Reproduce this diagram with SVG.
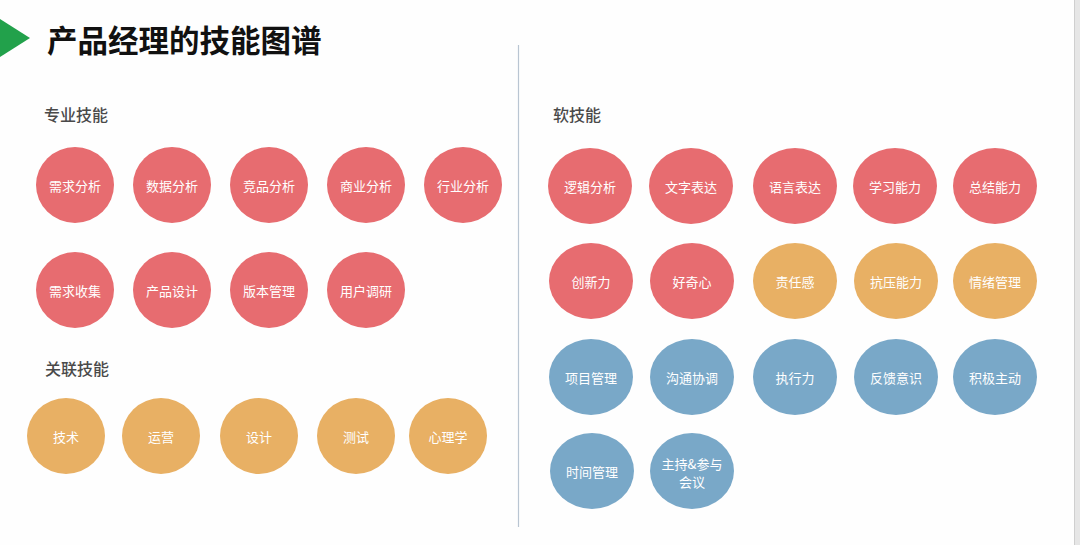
<svg xmlns="http://www.w3.org/2000/svg" width="1080" height="545" viewBox="0 0 1080 545">
<style>
.t{font-family:"Noto Sans CJK SC","Noto Sans",sans-serif;fill:#fff;font-size:13px;text-anchor:middle;dominant-baseline:central}
.h{font-family:"Noto Sans CJK SC","Noto Sans",sans-serif;fill:#4a4a4a;font-size:16px;font-weight:500}
.r{fill:#e76c70}
.o{fill:#e8b064}
.b{fill:#79a8c8}
</style>
<rect width="1080" height="545" fill="#fefefe"/>
<rect x="1075" y="0" width="5" height="545" fill="#e6e6e6"/>
<line x1="1074.5" y1="0" x2="1074.5" y2="545" stroke="#cfcfcf"/>
<polygon points="0,19 30,38 0,57" fill="#22a14b"/>
<text x="47" y="52" font-family="Noto Sans CJK SC, sans-serif" font-size="30.5" font-weight="bold" fill="#111">产品经理的技能图谱</text>
<line x1="518.5" y1="45" x2="518.5" y2="527" stroke="#b9c5d2" stroke-width="1.2"/>
<text class="h" x="44" y="121">专业技能</text>
<text class="h" x="45" y="375">关联技能</text>
<text class="h" x="553" y="121">软技能</text>
<g id="n1"><ellipse class="r" cx="75" cy="185" rx="39" ry="38"/><text class="t" x="75" y="185">需求分析</text></g>
<g id="n2"><ellipse class="r" cx="172" cy="185" rx="39" ry="38"/><text class="t" x="172" y="185">数据分析</text></g>
<g id="n3"><ellipse class="r" cx="269" cy="185" rx="39" ry="38"/><text class="t" x="269" y="185">竞品分析</text></g>
<g id="n4"><ellipse class="r" cx="366" cy="185" rx="39" ry="38"/><text class="t" x="366" y="185">商业分析</text></g>
<g id="n5"><ellipse class="r" cx="463" cy="185" rx="39" ry="38"/><text class="t" x="463" y="185">行业分析</text></g>
<g id="n6"><ellipse class="r" cx="75" cy="290" rx="39" ry="38"/><text class="t" x="75" y="290">需求收集</text></g>
<g id="n7"><ellipse class="r" cx="172" cy="290" rx="39" ry="38"/><text class="t" x="172" y="290">产品设计</text></g>
<g id="n8"><ellipse class="r" cx="269" cy="290" rx="39" ry="38"/><text class="t" x="269" y="290">版本管理</text></g>
<g id="n9"><ellipse class="r" cx="366" cy="290" rx="39" ry="38"/><text class="t" x="366" y="290">用户调研</text></g>
<g id="a1"><ellipse class="o" cx="66" cy="436" rx="39" ry="38"/><text class="t" x="66" y="436">技术</text></g>
<g id="a2"><ellipse class="o" cx="161" cy="436" rx="39" ry="38"/><text class="t" x="161" y="436">运营</text></g>
<g id="a3"><ellipse class="o" cx="259" cy="436" rx="39" ry="38"/><text class="t" x="259" y="436">设计</text></g>
<g id="a4"><ellipse class="o" cx="356" cy="436" rx="39" ry="38"/><text class="t" x="356" y="436">测试</text></g>
<g id="a5"><ellipse class="o" cx="448" cy="436" rx="39" ry="38"/><text class="t" x="448" y="436">心理学</text></g>
<g id="s1"><ellipse class="r" cx="590" cy="186" rx="42" ry="38"/><text class="t" x="590" y="186">逻辑分析</text></g>
<g id="s2"><ellipse class="r" cx="691" cy="186" rx="42" ry="38"/><text class="t" x="691" y="186">文字表达</text></g>
<g id="s3"><ellipse class="r" cx="795" cy="186" rx="42" ry="38"/><text class="t" x="795" y="186">语言表达</text></g>
<g id="s4"><ellipse class="r" cx="895" cy="186" rx="42" ry="38"/><text class="t" x="895" y="186">学习能力</text></g>
<g id="s5"><ellipse class="r" cx="995" cy="186" rx="42" ry="38"/><text class="t" x="995" y="186">总结能力</text></g>
<g id="s6"><ellipse class="r" cx="591" cy="281" rx="42" ry="38"/><text class="t" x="591" y="281">创新力</text></g>
<g id="s7"><ellipse class="r" cx="692" cy="281" rx="42" ry="38"/><text class="t" x="692" y="281">好奇心</text></g>
<g id="s8"><ellipse class="o" cx="795" cy="281" rx="42" ry="38"/><text class="t" x="795" y="281">责任感</text></g>
<g id="s9"><ellipse class="o" cx="896" cy="281" rx="42" ry="38"/><text class="t" x="896" y="281">抗压能力</text></g>
<g id="s10"><ellipse class="o" cx="995" cy="281" rx="42" ry="38"/><text class="t" x="995" y="281">情绪管理</text></g>
<g id="s11"><ellipse class="b" cx="591" cy="377" rx="42" ry="38"/><text class="t" x="591" y="377">项目管理</text></g>
<g id="s12"><ellipse class="b" cx="692" cy="377" rx="42" ry="38"/><text class="t" x="692" y="377">沟通协调</text></g>
<g id="s13"><ellipse class="b" cx="795" cy="377" rx="42" ry="38"/><text class="t" x="795" y="377">执行力</text></g>
<g id="s14"><ellipse class="b" cx="896" cy="377" rx="42" ry="38"/><text class="t" x="896" y="377">反馈意识</text></g>
<g id="s15"><ellipse class="b" cx="995" cy="377" rx="42" ry="38"/><text class="t" x="995" y="377">积极主动</text></g>
<g id="s16"><ellipse class="b" cx="592" cy="471" rx="42" ry="38"/><text class="t" x="592" y="471">时间管理</text></g>
<g id="s17"><ellipse class="b" cx="692" cy="471" rx="42" ry="38"/><text class="t" x="692" y="463">主持&amp;参与</text><text class="t" x="692" y="481">会议</text></g>
<g id="connectors"></g>
</svg>
